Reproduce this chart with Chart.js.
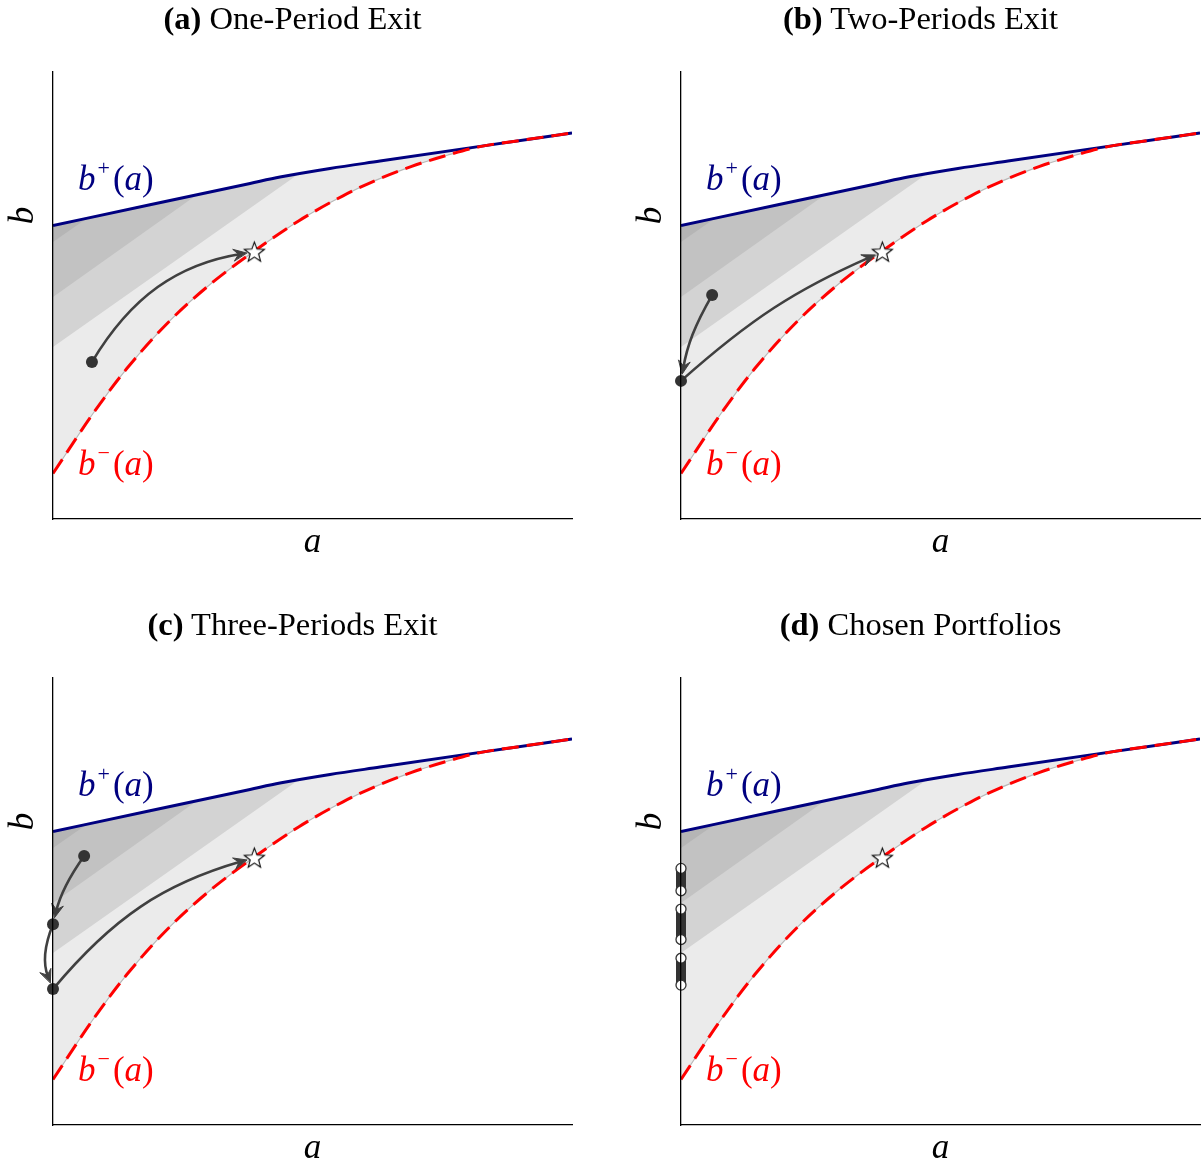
<!DOCTYPE html>
<html>
<head>
<meta charset="utf-8">
<title>Exit regions</title>
<script src="https://cdn.jsdelivr.net/npm/chart.js@4.4.1/dist/chart.umd.min.js"></script>
<style>
html, body { margin: 0; padding: 0; background: #fff; overflow: hidden; }
#page { position: relative; width: 1203px; height: 1160px; }
.panel { position: absolute; width: 600px; height: 600px; }
.panel canvas { position: absolute; left: 0; top: 0; }
.title { position: absolute; left: 0; top: 0; width: 585px; text-align: center;
         font-family: 'Liberation Serif', serif; font-size: 32.5px; line-height: 36px; white-space: nowrap; }
.math { position: absolute; font-family: 'Liberation Serif', serif; font-size: 35px; line-height: 35px; white-space: nowrap; }
.math i { font-style: italic; }
.math sup { font-size: 22px; vertical-align: 15px; line-height: 0; margin: 0 3px 0 2px; }
.axis-a { left: 262.5px; top: 523px; width: 100px; text-align: center; }
.axis-b { left: -29.5px; top: 198px; width: 100px; text-align: center; transform: rotate(-90deg); }
.lab-up { left: 78px; top: 161px; color: #000080; }
.lab-lo { left: 78px; top: 446px; color: #ff0000; }
</style>
</head>
<body>
<div id="page"></div>
<script>
// b+(a): upper boundary (blue)
const upperX = [0, 0.1869, 0.3796, 0.4374, 0.5337, 0.6301, 0.8227, 1];
const upperY = [0.6566, 0.7029, 0.7506, 0.7649, 0.7841, 0.8007, 0.8336, 0.8635];
// b-(a): lower boundary (red, dashed)
const lowerX = [0, 0.0771, 0.1426, 0.2254, 0.3064, 0.3873, 0.4740, 0.5588, 0.6204, 0.6898, 0.7611, 0.8227, 0.9114, 1];
const lowerY = [0.1018, 0.2360, 0.3371, 0.4438, 0.5284, 0.5989, 0.6673, 0.7230, 0.7570, 0.7884, 0.8143, 0.8331, 0.8486, 0.8635];

// lower edges of the darker shaded bands (each runs up to the blue curve)
const band1X = [0, 0.4759];
const band1Y = [0.3848, 0.7740];
const band2X = [0, 0.2775];
const band2Y = [0.4966, 0.7253];
const band3X = [0, 0.0655];
const band3Y = [0.6197, 0.6727];

// target portfolio (star) and starting points
const starPt = [0.388, 0.598];
const dotsA = [[0.075, 0.351]];
const dotsB = [[0.060, 0.501], [0, 0.309]];
const dotsC = [[0.060, 0.602], [0, 0.449], [0, 0.304]];
const dotsD = [];

// moves: from -> to, bend in degrees (+ left, - right)
const arrowsA = [{from: dotsA[0], to: starPt, bend: 25}];
const arrowsB = [{from: dotsB[0], to: dotsB[1], bend: -10}, {from: dotsB[1], to: starPt, bend: 9}];
const arrowsC = [{from: dotsC[0], to: dotsC[1], bend: -11}, {from: dotsC[1], to: dotsC[2], bend: -22},
                 {from: dotsC[2], to: starPt, bend: 17}];

// chosen portfolio intervals on the b axis (panel d)
const barsD = [[0.574, 0.524], [0.483, 0.415], [0.373, 0.313]];

const panelTitles = [['(a)', 'One-Period Exit'], ['(b)', 'Two-Periods Exit'],
                     ['(c)', 'Three-Periods Exit'], ['(d)', 'Chosen Portfolios']];

const shade = ['#ebebeb', '#d3d3d3', '#c2c2c2', '#b5b5b5'];

function pts(xs, ys) {
    return xs.map((x, i) => ({x: x, y: ys[i]}));
}

// 5-point star used as point style
function makeStar(r) {
    const c = document.createElement('canvas');
    const s = Math.ceil(2 * r + 4);
    c.width = s; c.height = s;
    const g = c.getContext('2d');
    g.translate(s / 2, s / 2 + 0.9);
    g.beginPath();
    for (let i = 0; i < 10; i++) {
        const rr = i % 2 ? r * 0.42 : r;
        const ang = -Math.PI / 2 + i * Math.PI / 5;
        g.lineTo(rr * Math.cos(ang), rr * Math.sin(ang));
    }
    g.closePath();
    g.fillStyle = '#fff';
    g.fill();
    g.lineWidth = 1.1;
    g.strokeStyle = '#000';
    g.stroke();
    return c;
}
const starImg = makeStar(10.5);

// curved arrows, drawn right after the red curve so dots/star sit on top
const arrowPlugin = {
    id: 'arrows',
    afterDatasetDraw(chart, args, opts) {
        if (args.index !== 4) return;
        const xs = chart.scales.x, ys = chart.scales.y, ctx = chart.ctx;
        (opts.list || []).forEach(ar => {
            const p0 = {x: xs.getPixelForValue(ar.from[0]), y: ys.getPixelForValue(ar.from[1])};
            const p1 = {x: xs.getPixelForValue(ar.to[0]), y: ys.getPixelForValue(ar.to[1])};
            const dx = p1.x - p0.x, dy = p1.y - p0.y;
            const L = Math.hypot(dx, dy), a = Math.atan2(dy, dx), th = ar.bend * Math.PI / 180;
            const d = 0.3915 * L;
            const gap = ar.to === starPt ? 8 : 7;
            const ux = Math.cos(a + Math.PI + th), uy = Math.sin(a + Math.PI + th);
            const tip = {x: p1.x + gap * ux, y: p1.y + gap * uy};
            const c1 = {x: p0.x + d * Math.cos(a - th), y: p0.y + d * Math.sin(a - th)};
            const c2 = {x: tip.x + (d - gap) * ux, y: tip.y + (d - gap) * uy};
            const end = {x: tip.x + 6 * ux, y: tip.y + 6 * uy};
            ctx.save();
            ctx.strokeStyle = '#404040';
            ctx.fillStyle = '#404040';
            ctx.lineWidth = 2.6;
            ctx.lineCap = 'round';
            ctx.beginPath();
            ctx.moveTo(p0.x, p0.y);
            ctx.bezierCurveTo(c1.x, c1.y, c2.x, c2.y, end.x, end.y);
            ctx.stroke();
            // stealth head
            const hl = 13, hw = 5.8;
            const px = -uy, py = ux;
            ctx.beginPath();
            ctx.moveTo(tip.x, tip.y);
            ctx.lineTo(tip.x + hl * ux + hw * px, tip.y + hl * uy + hw * py);
            ctx.lineTo(tip.x + 0.62 * hl * ux, tip.y + 0.62 * hl * uy);
            ctx.lineTo(tip.x + hl * ux - hw * px, tip.y + hl * uy - hw * py);
            ctx.closePath();
            ctx.fill();
            ctx.lineWidth = 1;
            ctx.lineJoin = 'miter';
            ctx.stroke();
            ctx.restore();
        });
    }
};

function buildChart(canvas, dots, arrows, bars) {
    const circles = [];
    const barPts = [];
    bars.forEach(b => {
        barPts.push({x: 0, y: b[0]}, {x: 0, y: b[1]}, {x: 0, y: null});
        circles.push({x: 0, y: b[0]}, {x: 0, y: b[1]});
    });
    const bandFill = (xs, ys, col) => ({
        data: pts(xs, ys), borderWidth: 0, borderColor: 'transparent', pointRadius: 0,
        backgroundColor: col, fill: {target: 5, above: col, below: col}
    });
    return new Chart(canvas.getContext('2d'), {
        type: 'line',
        data: {
            datasets: [
                {data: [{x: starPt[0], y: starPt[1]}], showLine: false, pointStyle: starImg, pointRadius: 11, clip: false},
                {data: dots.map(p => ({x: p[0], y: p[1]})), showLine: false, pointRadius: 6,
                 pointBackgroundColor: '#333', pointBorderColor: '#333', pointBorderWidth: 0, clip: false},
                {data: circles, showLine: false, pointRadius: 5, pointBackgroundColor: '#fff',
                 pointBorderColor: '#333', pointBorderWidth: 1.3, clip: false},
                {data: barPts, borderColor: '#333', borderWidth: 10, pointRadius: 0, spanGaps: false,
                 borderCapStyle: 'butt', clip: false},
                {data: pts(lowerX, lowerY), borderColor: '#ff0000', borderWidth: 3, borderDash: [17, 8],
                 borderCapStyle: 'butt', pointRadius: 0, cubicInterpolationMode: 'monotone'},
                {data: pts(upperX, upperY), borderColor: '#000080', borderWidth: 3, pointRadius: 0,
                 cubicInterpolationMode: 'monotone'},
                {data: pts(lowerX, lowerY), borderColor: '#b8b8b8', borderWidth: 1.2, pointRadius: 0,
                 cubicInterpolationMode: 'monotone'},
                bandFill(band3X, band3Y, shade[3]),
                bandFill(band2X, band2Y, shade[2]),
                bandFill(band1X, band1Y, shade[1]),
                {data: pts(upperX, upperY), borderWidth: 0, borderColor: 'transparent', pointRadius: 0,
                 cubicInterpolationMode: 'monotone', backgroundColor: shade[0],
                 fill: {target: 4, above: shade[0], below: shade[0]}}
            ]
        },
        options: {
            responsive: false,
            animation: false,
            devicePixelRatio: 1,
            events: [],
            layout: {autoPadding: false, padding: {left: 53, top: 72, right: 8, bottom: 26}},
            plugins: {
                legend: {display: false},
                tooltip: {enabled: false},
                arrows: {list: arrows}
            },
            scales: {
                x: {
                    type: 'linear', min: 0, max: 1, offset: false,
                    ticks: {display: false},
                    grid: {display: false, drawTicks: false},
                    border: {display: true, color: '#000', width: 1.3, z: 1}
                },
                y: {
                    type: 'linear', min: 0, max: 1,
                    ticks: {display: false},
                    grid: {display: false, drawTicks: false},
                    border: {display: true, color: '#000', width: 1.3, z: 1}
                }
            }
        },
        plugins: [arrowPlugin]
    });
}

const page = document.getElementById('page');
const offsets = [[0, 0], [628, 0], [0, 606], [628, 606]];
const panelDots = [dotsA, dotsB, dotsC, dotsD];
const panelArrows = [arrowsA, arrowsB, arrowsC, []];
const panelBars = [[], [], [], barsD];

offsets.forEach((o, i) => {
    const p = document.createElement('div');
    p.className = 'panel';
    p.style.left = o[0] + 'px';
    p.style.top = o[1] + 'px';
    p.innerHTML =
        '<canvas width="580" height="545"></canvas>' +
        '<div class="title"><b>' + panelTitles[i][0] + '</b> ' + panelTitles[i][1] + '</div>' +
        '<div class="math axis-a"><i>a</i></div>' +
        '<div class="math axis-b"><i>b</i></div>' +
        '<div class="math lab-up"><i>b</i><sup>+</sup>(<i>a</i>)</div>' +
        '<div class="math lab-lo"><i>b</i><sup>\u2212</sup>(<i>a</i>)</div>';
    page.appendChild(p);
    buildChart(p.querySelector('canvas'), panelDots[i], panelArrows[i], panelBars[i]);
});
</script>
</body>
</html>
